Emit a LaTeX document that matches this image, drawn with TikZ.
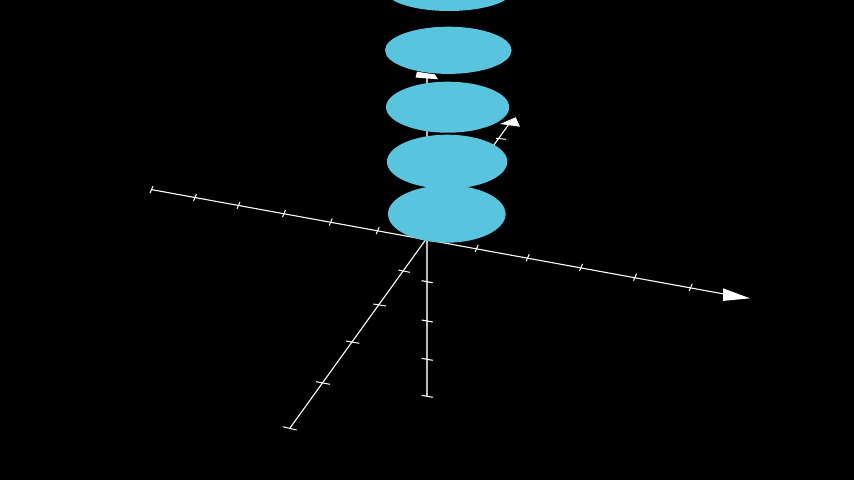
\documentclass[tikz,border=0pt]{standalone}
\definecolor{discblue}{HTML}{58C4DD}
\definecolor{axgray}{HTML}{BBBBBB}
\begin{document}
\begin{tikzpicture}[x=1pt,y=-1pt,
  axis/.style={white,line width=1.1pt},
  zaxis/.style={axgray,line width=1.6pt},
  tickmark/.style={white,line width=1pt},
  ztick/.style={white,line width=1.1pt},
  disc/.style={fill=discblue}]
\fill[black] (0,0) rectangle (854,480);
\useasboundingbox (0,0) rectangle (854,480);
% coordinates
\coordinate (O) at (427,240);
\coordinate (xL) at (151,189.5);
\coordinate (xR) at (724,294);
\coordinate (yF) at (290,428);
\coordinate (yB) at (509,124);
\coordinate (zB) at (427,396);
\coordinate (zT) at (427,75);
% x axis
\draw[axis] (xL) -- (xR);
\fill[white] (723,288.3) -- (750,298.3) -- (723,300.9) -- cycle;
\foreach \p in {151.5,195,238.5,284,330.7,377.7,476.7,527.7,581,635,690.7}{
  \pgfmathsetmacro\q{189.5+(\p-151)*0.1811}
  \draw[tickmark] (\p-1.5,\q+3.5) -- (\p+1.5,\q-3.5);
}
% y axis
\draw[axis] (yF) -- (yB);
\fill[white] (500,124) -- (515.7,117.3) -- (520,126.7) -- cycle;
\draw[tickmark] (398.3,270) -- (410,272.3);
\draw[tickmark] (373.3,304) -- (386,306);
\draw[tickmark] (346,341) -- (359.3,343.3);
\draw[tickmark] (316,381.7) -- (330,384.3);
\draw[tickmark] (282.7,426.7) -- (296.7,430);
\draw[tickmark] (496,138.3) -- (506,139.3);
% z axis
\draw[zaxis] (zB) -- (zT);
\foreach \q in {281.7,321,359.3,396.3}{
  \draw[ztick] (421.7,\q-1) -- (432.7,\q+1);
}
% discs
\fill[disc] (449,-10) ellipse [x radius=64, y radius=21];
\fill[disc] (448.3,50.3) ellipse [x radius=63.3, y radius=23.6];
\fill[disc] (447.6,107.2) ellipse [x radius=61.6, y radius=25.5];
\fill[disc] (447.1,161.7) ellipse [x radius=60.2, y radius=27];
\fill[disc] (446.8,214) ellipse [x radius=58.8, y radius=28.7];
% z arrow head (seen from the side)
\fill[white] (417,71.7) -- (435,74.5) -- (438,79.3) -- (415.5,77.5) -- cycle;
\end{tikzpicture}
\end{document}
